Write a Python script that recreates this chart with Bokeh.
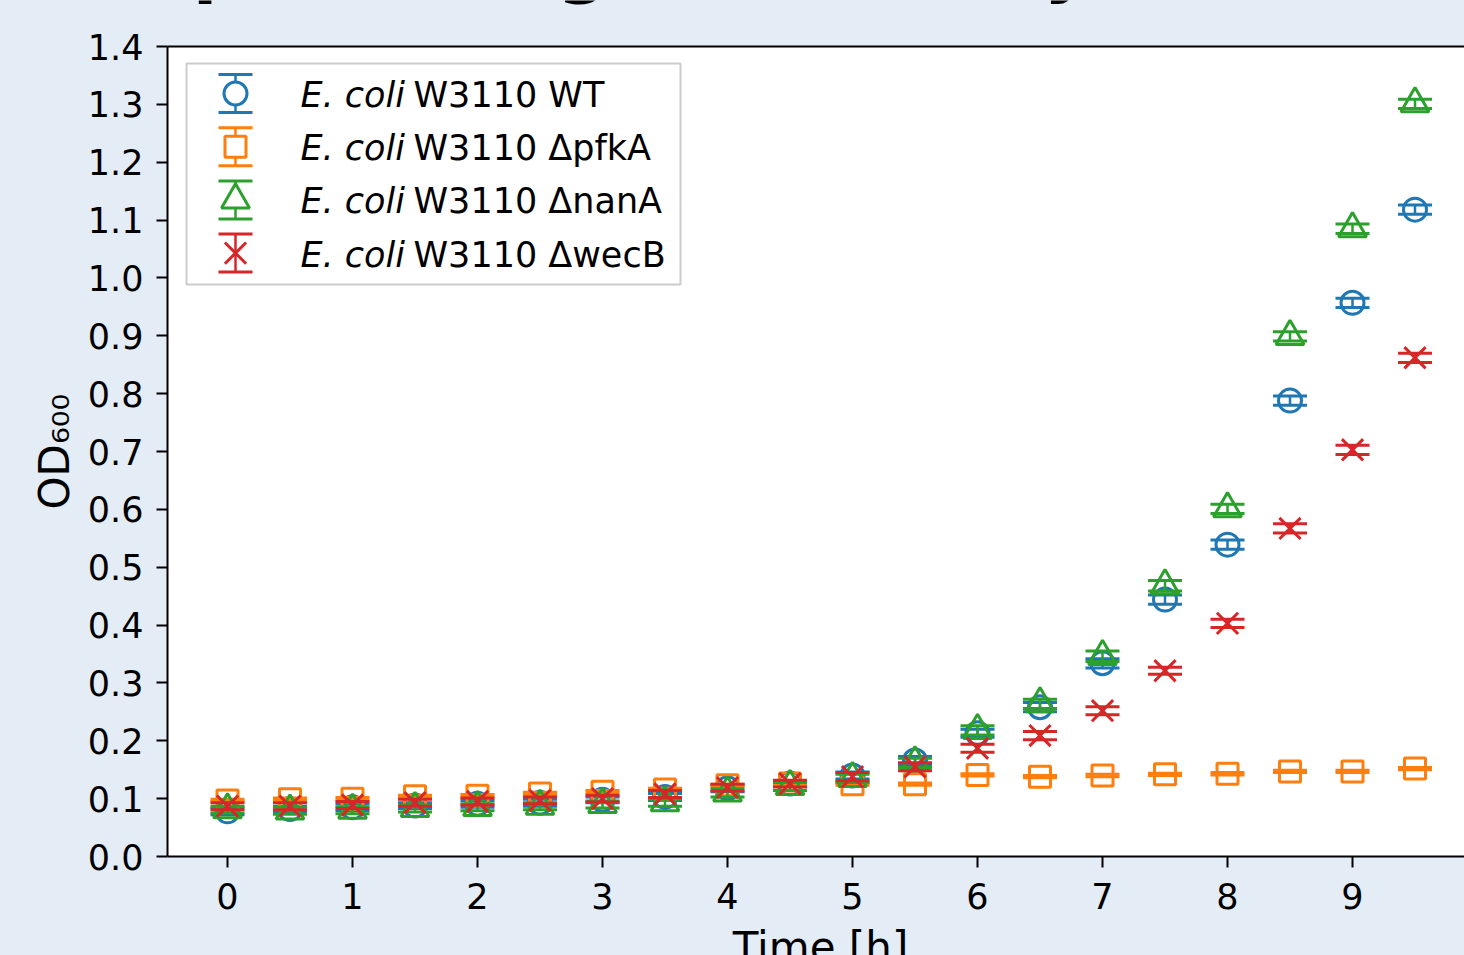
import numpy as np
from bokeh.plotting import figure
from bokeh.layouts import column
from bokeh.models import (Range1d, LinearAxis, FixedTicker, PrintfTickFormatter,
                          ColumnDataSource)
from bokeh.core.properties import value
from bokeh.embed import file_html
from bokeh.resources import INLINE

# ---------------- data ----------------
time_h = [0.0, 0.5, 1.0, 1.5, 2.0, 2.5, 3.0, 3.5, 4.0, 4.5,
          5.0, 5.5, 6.0, 6.5, 7.0, 7.5, 8.0, 8.5, 9.0, 9.5]

od_wt = [0.078, 0.082, 0.085, 0.088, 0.091, 0.093, 0.098, 0.103, 0.118, 0.126,
         0.140, 0.166, 0.213, 0.258, 0.334, 0.444, 0.539, 0.788, 0.957, 1.118]
od_pfka = [0.097, 0.099, 0.100, 0.104, 0.105, 0.109, 0.112, 0.116, 0.123, 0.126,
           0.125, 0.125, 0.141, 0.138, 0.140, 0.142, 0.143, 0.147, 0.147, 0.152]
od_nana = [0.081, 0.079, 0.080, 0.083, 0.085, 0.087, 0.090, 0.093, 0.110, 0.121,
           0.135, 0.162, 0.218, 0.264, 0.346, 0.468, 0.601, 0.899, 1.085, 1.301]
od_wecb = [0.087, 0.087, 0.089, 0.093, 0.095, 0.097, 0.100, 0.108, 0.119, 0.126,
           0.138, 0.155, 0.187, 0.209, 0.252, 0.321, 0.403, 0.567, 0.703, 0.862]

sd_wt = [0.006, 0.005, 0.006, 0.005, 0.006, 0.006, 0.005, 0.006, 0.006, 0.005,
         0.006, 0.007, 0.007, 0.008, 0.008, 0.008, 0.008, 0.008, 0.008, 0.008]
sd_pfka = [0.002, 0.002, 0.002, 0.002, 0.002, 0.002, 0.002, 0.002, 0.002, 0.002,
           0.002, 0.002, 0.002, 0.002, 0.002, 0.002, 0.002, 0.002, 0.002, 0.002]
sd_nana = [0.006, 0.006, 0.006, 0.006, 0.006, 0.006, 0.006, 0.006, 0.007, 0.007,
           0.007, 0.008, 0.008, 0.008, 0.009, 0.009, 0.008, 0.008, 0.008, 0.008]
sd_wecb = [0.006, 0.006, 0.006, 0.006, 0.006, 0.006, 0.006, 0.006, 0.006, 0.006,
           0.007, 0.007, 0.007, 0.007, 0.007, 0.006, 0.007, 0.008, 0.008, 0.008]

strain_italic = ["E. coli", "E. coli", "E. coli", "E. coli"]
strain_names = ["W3110 WT", "W3110 ΔpfkA", "W3110 ΔnanA", "W3110 ΔwecB"]

x_ticks = [0, 1, 2, 3, 4, 5, 6, 7, 8, 9]
y_ticks = [0.0, 0.1, 0.2, 0.3, 0.4, 0.5, 0.6, 0.7, 0.8, 0.9, 1.0, 1.1, 1.2, 1.3, 1.4]

title_text = "Comparative growth analysis of E. coli strains"
x_label = "Time [h]"
y_label = "OD₆₀₀"

# ---------------- styles / layout ----------------
colors = ["#1f77b4", "#ff7f0e", "#2ca02c", "#d62728"]
markers = ["circle", "square", "triangle", "x"]
msizes = [23, 21, 28, 30]
BG = "#e4ecf6"
FONT = "DejaVu Sans"

W, H = 1464, 955
TITLE_H = 20                 # strip at top holding the (cut-off) title
XLAB_H = 28                  # strip at bottom holding the (cut-off) x label
MAIN_H = H - TITLE_H - XLAB_H
LEFT, TOP, BOTTOM_Y = 167, 46, 856      # frame edges in page px
FW, FH = W - LEFT, BOTTOM_Y - TOP
X0_PX, PX_PER_X = 227, 125.0            # page px of x=0, px per hour


def dx(px):  # page px -> data x
    return (px - X0_PX) / PX_PER_X


def fx(px):  # page px -> frame-relative px
    return px - LEFT


def fy(py):  # page px -> frame-relative px (up)
    return BOTTOM_Y - py


X_RANGE = (dx(LEFT), dx(W))

p = figure(width=W, height=MAIN_H, output_backend="svg", toolbar_location=None,
           x_range=Range1d(*X_RANGE), y_range=Range1d(0, 1.4),
           x_axis_type=None, y_axis_type=None,
           min_border_left=LEFT, min_border_right=0,
           min_border_top=TOP - TITLE_H,
           min_border_bottom=(H - XLAB_H) - BOTTOM_Y)
p.extra_x_ranges = {"px": Range1d(0, FW)}
p.extra_y_ranges = {"px": Range1d(0, FH)}
p.border_fill_color = BG
p.background_fill_color = "white"
p.outline_line_color = None
p.xgrid.visible = False
p.ygrid.visible = False


def style_axis(ax, font_size="35px"):
    ax.axis_line_width = 2
    ax.axis_line_color = "black"
    ax.major_tick_line_width = 2
    ax.major_tick_line_color = "black"
    ax.major_tick_out = 11
    ax.major_tick_in = 0
    ax.minor_tick_line_color = None
    ax.major_label_text_font = FONT
    ax.major_label_text_font_size = font_size
    ax.major_label_text_color = "black"


xaxis = LinearAxis(ticker=FixedTicker(ticks=x_ticks))
style_axis(xaxis)
xaxis.major_label_standoff = 15
p.add_layout(xaxis, "below")

yaxis = LinearAxis(ticker=FixedTicker(ticks=y_ticks),
                   formatter=PrintfTickFormatter(format="%.1f"))
style_axis(yaxis)
yaxis.major_label_standoff = 13
yaxis.axis_label = y_label
yaxis.axis_label_text_font = FONT
yaxis.axis_label_text_font_size = "42px"
yaxis.axis_label_text_font_style = "normal"
yaxis.axis_label_text_color = "black"
yaxis.axis_label_standoff = 6
p.add_layout(yaxis, "left")

top = LinearAxis(ticker=FixedTicker(ticks=[]))
top.axis_line_width = 2
top.axis_line_color = "black"
top.major_tick_line_color = None
top.minor_tick_line_color = None
top.major_label_text_font_size = "0px"
p.add_layout(top, "above")

# ---------------- data series ----------------
all_od = [od_wt, od_pfka, od_nana, od_wecb]
all_sd = [sd_wt, sd_pfka, sd_nana, sd_wecb]

for od, sd, c, m, s in zip(all_od, all_sd, colors, markers, msizes):
    lo = [v - e for v, e in zip(od, sd)]
    hi = [v + e for v, e in zip(od, sd)]
    src = ColumnDataSource(dict(t=time_h, y=od, lo=lo, hi=hi))
    p.segment(x0="t", y0="lo", x1="t", y1="hi", source=src, line_color=c, line_width=2.5)
    p.scatter(x="t", y="lo", source=src, marker="dash", size=34, line_color=c, line_width=3)
    p.scatter(x="t", y="hi", source=src, marker="dash", size=34, line_color=c, line_width=3)
    p.scatter(x="t", y="y", source=src, marker=m, size=s, fill_color=None,
              line_color=c, line_width=3)

# ---------------- legend (drawn in frame pixel space) ----------------
p.quad(left=[fx(186)], right=[fx(680)], top=[fy(63)], bottom=[fy(284)],
       fill_color="white", fill_alpha=0.85, line_color="#cccccc", line_width=2,
       x_range_name="px", y_range_name="px")
for i in range(4):
    cy = fy(93 + 53.2 * i)
    ix = fx(235)
    c = colors[i]
    p.segment(x0=[ix], y0=[cy - 19], x1=[ix], y1=[cy + 19], line_color=c,
              line_width=2.5, x_range_name="px", y_range_name="px")
    p.scatter(x=[ix, ix], y=[cy - 19, cy + 19], marker="dash", size=34, line_color=c,
              line_width=3, x_range_name="px", y_range_name="px")
    p.scatter(x=[ix], y=[cy], marker=markers[i], size=msizes[i], fill_color="white",
              line_color=c, line_width=3, x_range_name="px", y_range_name="px")
    p.text(x=[fx(300)], y=[cy - 1.5], text=[strain_italic[i]], text_font=value(FONT),
           text_font_style="italic", text_font_size="35px", text_color="black",
           text_baseline="alphabetic", x_range_name="px", y_range_name="px")
    p.text(x=[fx(413)], y=[cy - 1.5], text=[strain_names[i]], text_font=value(FONT),
           text_font_size="35px", text_color="black",
           text_baseline="alphabetic", x_range_name="px", y_range_name="px")


# ---------------- strips for the cut-off title and x label ----------------
def strip(height):
    f = figure(width=W, height=height, output_backend="svg", toolbar_location=None,
               x_range=Range1d(*X_RANGE), y_range=Range1d(0, height),
               x_axis_type=None, y_axis_type=None, min_border=0)
    f.border_fill_color = BG
    f.background_fill_color = BG
    f.outline_line_color = None
    return f


top_strip = strip(TITLE_H)
# only the descenders of the title reach into the visible page
top_strip.text(x=[dx(15)], y=[TITLE_H + 37], text=[title_text], text_font=value(FONT),
               text_font_style="bold", text_font_size="72px", text_color="black",
               text_baseline="middle", text_align="left")

bot_strip = strip(XLAB_H)
bot_strip.text(x=[dx(820)], y=[H - 946.5], text=[x_label], text_font=value(FONT),
               text_font_size="42px", text_color="black",
               text_baseline="middle", text_align="center")

layout = column(top_strip, p, bot_strip, spacing=0,
                styles={"background-color": BG})

open("out.html", "w").write(file_html(layout, INLINE))
